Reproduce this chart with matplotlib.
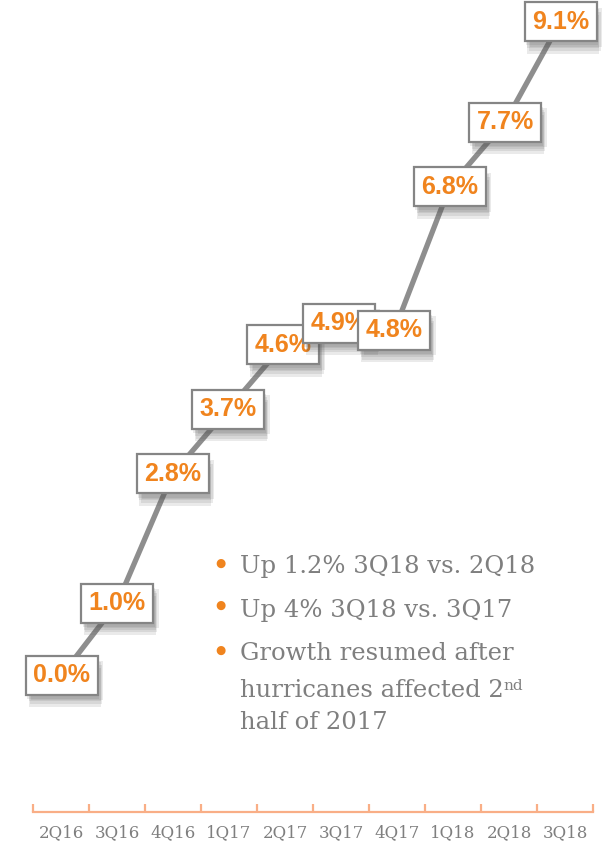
import matplotlib
matplotlib.use("Agg")
import matplotlib.pyplot as plt
import matplotlib.patheffects as pe
from matplotlib import font_manager as fm

# data
quarters = ["2Q16", "3Q16", "4Q16", "1Q17", "2Q17", "3Q17", "4Q17", "1Q18", "2Q18", "3Q18"]
growth = [0.0, 1.0, 2.8, 3.7, 4.6, 4.9, 4.8, 6.8, 7.7, 9.1]
bullets = ["Up 1.2% 3Q18 vs. 2Q18", "Up 4% 3Q18 vs. 3Q17", "Growth resumed after"]

ORANGE = "#f0841e"
AXIS_ORANGE = "#f9ae86"
GRAY = "#7f7f7f"
LINE_GRAY = "#8e8e8e"

# regular-width Liberation Sans Bold (Arial metrics), not the Narrow cut
label_font = fm.FontProperties(family="DejaVu Sans", weight="bold", size=18)
for f in fm.fontManager.ttflist:
    if f.name == "Liberation Sans" and f.weight in (700, "bold") and f.style == "normal" \
            and "Narrow" not in f.fname:
        label_font = fm.FontProperties(fname=f.fname, size=18)
        break

W, H = 602, 844
fig = plt.figure(figsize=(W / 100, H / 100), dpi=100)
rect = [33 / W, 32 / H, 560 / W, 812 / H]

# category axis (bottom)
ax = fig.add_axes(rect)
x = list(range(len(quarters)))
ax.set_xlim(-0.5, len(quarters) - 0.5)
ax.set_ylim(0, 1)
for s in ["top", "left", "right"]:
    ax.spines[s].set_visible(False)
ax.spines["bottom"].set_color(AXIS_ORANGE)
ax.spines["bottom"].set_linewidth(1.6)
ax.set_yticks([])
ax.set_xticks(x)
ax.set_xticklabels(quarters, family="DejaVu Serif", fontsize=12, color=GRAY)
ax.tick_params(axis="x", which="major", length=0, pad=9)
ax.set_xticks([i - 0.5 for i in range(len(quarters) + 1)], minor=True)
ax.tick_params(axis="x", which="minor", direction="in", length=6, width=1.6, color=AXIS_ORANGE)

# line chart sits on its own plot area, slightly narrower spacing
lax = fig.add_axes(rect, facecolor="none")
lax.axis("off")
lax.set_xlim(-0.52, 9.585)
lax.set_ylim(-1.908, 9.401)
lax.plot(x, growth, color=LINE_GRAY, lw=3.8, solid_capstyle="butt", zorder=2)

# soft shadow: a few stacked faint copies
shadow = []
for dx, dy in [(1, -3), (2, -5), (3, -7), (2, -9), (4, -4)]:
    shadow.append(pe.SimplePatchShadow(offset=(dx, dy), shadow_rgbFace="#555555", alpha=0.12))
shadow.append(pe.Normal())

for xi, v in zip(x, growth):
    t = lax.text(xi, v, f"{v:.1f}%", ha="center", va="center",
                 fontproperties=label_font, color=ORANGE, zorder=3, clip_on=False,
                 bbox=dict(boxstyle="square,pad=0.3", fc="white", ec="#858585", lw=1.6))
    t.get_bbox_patch().set_path_effects(shadow)

# bullet notes
def fx(px):
    return px / W

def fy(py):
    return 1 - py / H

text_kw = dict(family="DejaVu Serif", fontsize=17.5, color=GRAY, va="baseline", ha="left")
for label, base, dot in zip(bullets, [573, 617, 660], [563, 605, 650]):
    fig.text(fx(240), fy(base), label, **text_kw)
    fig.text(fx(220), fy(dot), "\u25CF", family="DejaVu Sans", fontsize=8.5,
             color=ORANGE, ha="center", va="center")
t4 = fig.text(fx(240), fy(697), "hurricanes affected 2", **text_kw)
lax.annotate("nd", xy=(1.0, 1.0), xycoords=t4, xytext=(0, 0), textcoords="offset points",
             family="DejaVu Serif", fontsize=11, color=GRAY, ha="left", va="top",
             annotation_clip=False)
fig.text(fx(240), fy(729), "half of 2017", **text_kw)

fig.savefig("out.png", dpi=100)
